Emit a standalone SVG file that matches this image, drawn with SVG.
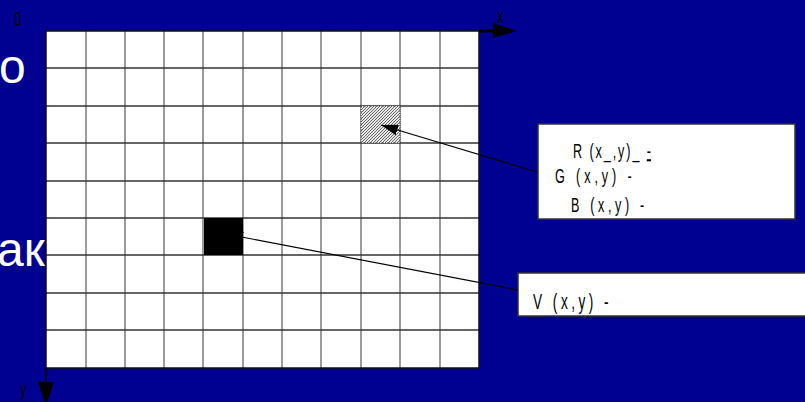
<svg xmlns="http://www.w3.org/2000/svg" width="805" height="402" viewBox="0 0 805 402">
  <style>
    .big { font-family: "Liberation Sans", Arial, sans-serif; font-size: 48px; fill: #ffffff; }
    .lbl { font-family: "Liberation Sans", Arial, sans-serif; font-size: 21px; fill: #000000; }
    .ax { font-family: "Liberation Sans", Arial, sans-serif; font-size: 21px; fill: #000000; }
    .hl { stroke: #333333; stroke-width: 1.5; }
    .vl { stroke: #7a7a7a; stroke-width: 1.5; }
    .box { fill: #ffffff; stroke: #333333; stroke-width: 1.5; }
    .conn { stroke: #000000; stroke-width: 1.2; fill: none; marker-end: url(#arr); }
  </style>
  <defs>
    <pattern id="hatch" patternUnits="userSpaceOnUse" width="3" height="3">
      <rect width="3" height="3" fill="#e6e6e6"/>
      <path d="M-1,1 L1,-1 M0,3 L3,0 M2,4 L4,2" stroke="#5a5a5a" stroke-width="0.9"/>
    </pattern>
    <marker id="arr" markerUnits="userSpaceOnUse" markerWidth="17" markerHeight="11" refX="17" refY="5.5" orient="auto">
      <path d="M0,0 L17,5.5 L0,11 Z" fill="#000000"/>
    </marker>
  </defs>

  <rect width="805" height="402" fill="#000091"/>

  <!-- background slide text, partly covered -->
  <text class="big" x="-1" y="83">о</text>
  <text class="big" x="-3" y="266">ак</text>

  <!-- grid -->
  <g id="grid">
    <rect x="46" y="31" width="433" height="337" fill="#ffffff"/>
    <g class="vl">
      <line x1="86" y1="31" x2="86" y2="368"/>
      <line x1="125" y1="31" x2="125" y2="368"/>
      <line x1="164" y1="31" x2="164" y2="368"/>
      <line x1="203" y1="31" x2="203" y2="368"/>
      <line x1="243" y1="31" x2="243" y2="368"/>
      <line x1="282" y1="31" x2="282" y2="368"/>
      <line x1="321" y1="31" x2="321" y2="368"/>
      <line x1="361" y1="31" x2="361" y2="368"/>
      <line x1="400" y1="31" x2="400" y2="368"/>
      <line x1="440" y1="31" x2="440" y2="368"/>
    </g>
    <g class="hl">
      <line x1="46" y1="68" x2="479" y2="68"/>
      <line x1="46" y1="106" x2="479" y2="106"/>
      <line x1="46" y1="143" x2="479" y2="143"/>
      <line x1="46" y1="181" x2="479" y2="181"/>
      <line x1="46" y1="218" x2="479" y2="218"/>
      <line x1="46" y1="255" x2="479" y2="255"/>
      <line x1="46" y1="293" x2="479" y2="293"/>
      <line x1="46" y1="330" x2="479" y2="330"/>
    </g>
    <rect x="46" y="31" width="433" height="337" fill="none" stroke="#111111" stroke-width="1.5"/>
  </g>

  <g id="cell-rgb">
    <rect x="361" y="106" width="39" height="37" fill="url(#hatch)" stroke="#444444" stroke-width="1" stroke-dasharray="1,1"/>
  </g>
  <g id="cell-v">
    <rect x="204" y="218" width="39" height="37" fill="#000000"/>
  </g>

  <!-- axes -->
  <g id="axis-x">
    <line x1="479" y1="31" x2="496" y2="31" stroke="#000000" stroke-width="3"/>
    <polygon points="493,23 517,31 493,38" fill="#000000"/>
    <text class="ax" transform="translate(497,23) scale(0.62,1)">x</text>
  </g>
  <g id="axis-y">
    <line x1="46" y1="368" x2="46" y2="384" stroke="#000000" stroke-width="2"/>
    <polygon points="38,382 54,382 46,406" fill="#000000"/>
    <text class="ax" transform="translate(20,396) scale(0.62,1)">y</text>
  </g>
  <g id="origin">
    <text class="ax" transform="translate(14,26) scale(0.62,1)">0</text>
  </g>

  <!-- label boxes -->
  <g id="box-rgb">
    <rect class="box" x="538" y="124" width="257" height="95"/>
    <text class="lbl" transform="translate(573,158) scale(0.6,1)" textLength="130" lengthAdjust="spacing">R (x_,y)_ <tspan text-decoration="underline">-</tspan></text>
    <text class="lbl" transform="translate(555,183) scale(0.6,1)" textLength="128" lengthAdjust="spacing">G (x,y) -</text>
    <text class="lbl" transform="translate(571,212) scale(0.6,1)" textLength="122" lengthAdjust="spacing">B (x,y) -</text>
  </g>
  <g id="box-v">
    <rect class="box" x="518" y="273" width="300" height="43"/>
    <text class="lbl" transform="translate(533,309) scale(0.62,1)" textLength="122" lengthAdjust="spacing" style="font-size:22px">V (x,y) -</text>
  </g>

  <!-- connectors -->
  <g id="connectors">
    <line class="conn" x1="537" y1="172" x2="381" y2="125"/>
    <line class="conn" x1="518" y1="290" x2="226" y2="234"/>
  </g>
</svg>
